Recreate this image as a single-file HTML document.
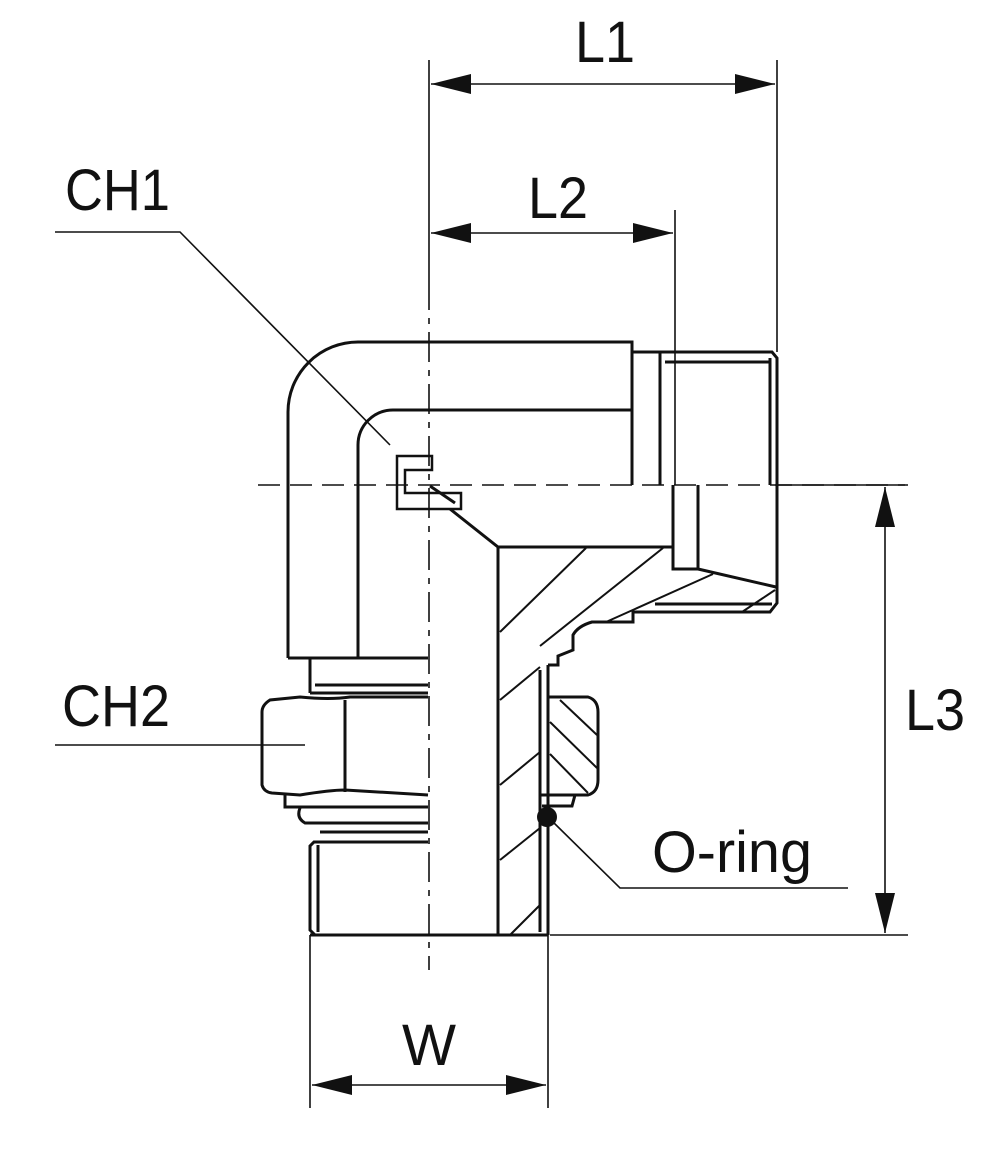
<!DOCTYPE html>
<html><head><style>body{margin:0;background:#fff}svg{display:block}text{font-family:"Liberation Sans",sans-serif;font-size:58px;fill:#111}</style></head>
<body>
<svg width="1000" height="1166" viewBox="0 0 1000 1166" xmlns="http://www.w3.org/2000/svg">
<defs>
<marker id="a" viewBox="0 0 12 6" refX="12" refY="3" markerWidth="40" markerHeight="20" markerUnits="userSpaceOnUse" orient="auto-start-reverse"><path d="M0,0L12,3L0,6z" fill="#111"/></marker>
</defs>
<g stroke="#111" fill="none" stroke-width="1.6">
<line x1="429" y1="60" x2="429" y2="280"/>
<line x1="777" y1="60" x2="777" y2="352"/>
<line x1="675" y1="210" x2="675" y2="485"/>
<line x1="431" y1="84" x2="775" y2="84" marker-start="url(#a)" marker-end="url(#a)"/>
<line x1="431" y1="233" x2="673" y2="233" marker-start="url(#a)" marker-end="url(#a)"/>
<line x1="775" y1="485" x2="908" y2="485"/>
<line x1="550" y1="935" x2="908" y2="935"/>
<line x1="885" y1="487" x2="885" y2="933" marker-start="url(#a)" marker-end="url(#a)"/>
<line x1="310" y1="935" x2="310" y2="1108"/>
<line x1="548" y1="935" x2="548" y2="1108"/>
<line x1="312" y1="1085" x2="546" y2="1085" marker-start="url(#a)" marker-end="url(#a)"/>
<polyline points="55,232 180,232 390,445"/>
<line x1="55" y1="745" x2="305" y2="745"/>
<polyline points="553,822 620,888 848,888"/>
<line x1="258" y1="485" x2="905" y2="485" stroke-dasharray="22,10"/>
<line x1="429" y1="280" x2="429" y2="970" stroke-dasharray="30,8,6,8"/>
</g>
<g stroke="#111" fill="none" stroke-width="3" stroke-linejoin="miter">
<path d="M288,658 V412 A70,70 0 0 1 358,342 H632 V485"/>
<path d="M358,658 V445 A35,35 0 0 1 393,410 H632"/>
<line x1="288" y1="658" x2="428" y2="658"/>
<path d="M632,352 H772 L777,358 V603 L770,612 H633 V622 H592 Q578,626 573,635 V650 L558,656 V665 H548"/>
<line x1="660" y1="352" x2="660" y2="485"/>
<line x1="665" y1="362" x2="770" y2="362"/>
<line x1="770" y1="358" x2="770" y2="485"/>
<path d="M673,485 V569 H698 V485"/>
<line x1="698" y1="569" x2="776" y2="587"/>
<line x1="655" y1="604" x2="772" y2="604"/>
<path d="M397,456 H432 V470 H405 V493 H461 V509 H397 Z" stroke-width="2.5"/>
<line x1="430" y1="486" x2="455" y2="503"/>
<path d="M450,509 L498,547 H673"/>
<line x1="498" y1="547" x2="498" y2="935"/>
<line x1="548" y1="665" x2="548" y2="935"/>
<line x1="540" y1="670" x2="540" y2="932"/>
<line x1="310" y1="935" x2="548" y2="935"/>
<line x1="310" y1="658" x2="310" y2="693"/>
<line x1="315" y1="685" x2="428" y2="685"/>
<line x1="310" y1="693" x2="428" y2="693"/>
<path d="M428,697 H350 Q330,700 300,697 L270,700 Q262,705 262,712 V785 Q264,792 272,793 L300,795 Q330,790 345,790 L428,795"/>
<line x1="345" y1="700" x2="345" y2="792"/>
<path d="M285,795 V807 H428"/>
<path d="M300,808 Q296,818 305,823 H428"/>
<line x1="320" y1="832" x2="428" y2="832"/>
<path d="M428,842 H314 L310,846 V930 L315,935"/>
<line x1="318" y1="845" x2="318" y2="932"/>
<path d="M548,697 H588 Q598,700 598,712 V780 Q598,792 588,795 H548"/>
<path d="M540,795 H575 L572,806 H542"/>
</g>
<g stroke="#111" stroke-width="2" fill="none">
<line x1="500" y1="632" x2="586" y2="548"/>
<line x1="540" y1="646" x2="663" y2="548"/>
<line x1="606" y1="622" x2="713" y2="574"/>
<line x1="742" y1="612" x2="775" y2="590"/>
<line x1="500" y1="700" x2="540" y2="667"/>
<line x1="500" y1="785" x2="540" y2="752"/>
<line x1="500" y1="860" x2="540" y2="828"/>
<line x1="510" y1="935" x2="540" y2="905"/>
<line x1="560" y1="700" x2="597" y2="735"/>
<line x1="550" y1="722" x2="597" y2="768"/>
<line x1="550" y1="754" x2="588" y2="793"/>
</g>
<circle cx="547" cy="817" r="10" fill="#111"/>
<text x="575" y="62" textLength="60" lengthAdjust="spacingAndGlyphs">L1</text>
<text x="528" y="218" textLength="60" lengthAdjust="spacingAndGlyphs">L2</text>
<text x="65" y="210" textLength="105" lengthAdjust="spacingAndGlyphs">CH1</text>
<text x="62" y="726" textLength="108" lengthAdjust="spacingAndGlyphs">CH2</text>
<text x="905" y="730" textLength="60" lengthAdjust="spacingAndGlyphs">L3</text>
<text x="652" y="872" textLength="160" lengthAdjust="spacingAndGlyphs">O-ring</text>
<text x="402" y="1065" textLength="54" lengthAdjust="spacingAndGlyphs">W</text>
</svg>
</body></html>
